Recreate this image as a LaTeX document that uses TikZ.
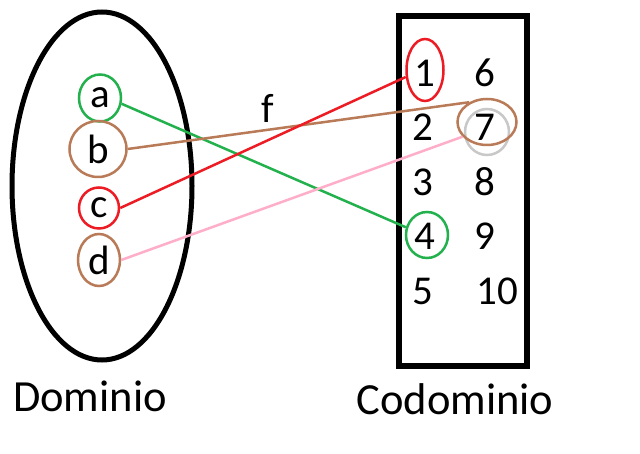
\documentclass[tikz,border=0pt]{standalone}
\usepackage{fontspec}
\setmainfont{Carlito}
\usetikzlibrary{shapes.geometric}
\definecolor{pgreen}{RGB}{34,177,76}
\definecolor{pred}{RGB}{237,28,36}
\definecolor{pbrown}{RGB}{185,122,87}
\definecolor{ppink}{RGB}{255,174,201}
\definecolor{pgray}{RGB}{200,200,200}
\tikzset{
  txt/.style={inner sep=0pt, font=\fontsize{41}{48}\selectfont},
  lbl/.style={inner sep=0pt, font=\fontsize{44.5}{52}\selectfont},
  ring/.style={draw=#1, ellipse, inner sep=0pt, line width=2.5pt, font=\fontsize{41}{48}\selectfont},
  conn/.style={draw=#1, line width=2.5pt}
}
\begin{document}
\begin{tikzpicture}[x=1pt,y=-1pt]
\useasboundingbox[fill=white] (0,0) rectangle (640,454);
% domain and codomain
\node[draw, ellipse, line width=5pt, minimum width=180pt, minimum height=348pt, inner sep=0pt] (dom) at (102,186) {};
\node[draw, rectangle, line width=6pt, minimum width=128pt, minimum height=350pt, inner sep=0pt] (cod) at (463,191) {};
% domain elements
\node[ring=pgreen, minimum width=42pt, minimum height=47pt] (a) at (100,98) {a};
\node[ring=pbrown, minimum width=57pt, minimum height=56pt] (b) at (98,149) {b};
\node[ring=pred, minimum width=40pt, minimum height=41pt] (c) at (99,208) {c};
\node[ring=pbrown, minimum width=42pt, minimum height=52pt] (d) at (99,260) {d};
% codomain elements
\node[txt] (n1) at (425,73) {1};
\node[txt] (n2) at (423,127) {2};
\node[txt] (n3) at (423,182) {3};
\node[txt] (n4) at (425,236) {4};
\node[txt] (n5) at (423,291) {5};
\node[txt] (n6) at (485,73) {6};
\node[txt] (n7) at (485,127) {7};
\node[txt] (n8) at (485,182) {8};
\node[txt] (n9) at (485,236) {9};
\node[txt] (n10) at (497,291) {10};
% rings on codomain
\node[ring=pred, minimum width=37pt, minimum height=62pt] (r1) at (425,70) {};
\node[ring=pgray, minimum width=44pt, minimum height=46pt] (r7g) at (487,132) {};
\node[ring=pbrown, minimum width=59pt, minimum height=46pt] (r7) at (487,122) {};
\node[ring=pgreen, minimum width=42pt, minimum height=46pt] (r4) at (427,235) {};
% connectors
\draw[conn=pgreen] (a.-15) -- (r4.160);
\draw[conn=pbrown] (b.east) -- (r7.132);
\draw[conn=pred] (c.east) -- (r1.200);
\draw[conn=ppink] (d.east) -- (r7.211);
% labels
\node[txt] (f) at (268,108) {f};
\node[lbl] (dl) at (90,396) {Dominio};
\node[lbl] (cl) at (455,399) {Codominio};
\end{tikzpicture}
\end{document}
